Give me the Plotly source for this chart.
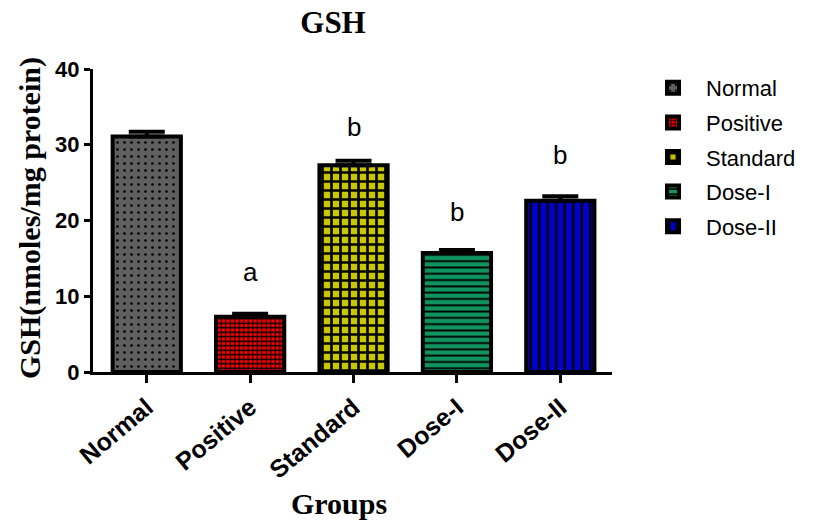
import plotly.graph_objects as go

# GSH levels per treatment group (nmoles/mg protein)
groups = ["Normal", "Positive", "Standard", "Dose-I", "Dose-II"]
gsh_mean = [31.1, 7.3, 27.3, 15.7, 22.6]
gsh_err = [0.6, 0.4, 0.6, 0.4, 0.6]
sig_letters = ["", "a", "b", "b", "b"]
letter_y = [None, 13.2, 32.3, 21.1, 28.6]
y_ticks = [0, 10, 20, 30, 40]

fill_colors = ["#5f5f5f", "#ff0000", "#c8c800", "#0f9460", "#0000c8"]
patterns = [
    dict(shape=".", fgcolor="black", bgcolor="#5f5f5f", size=7, solidity=0.12, fillmode="replace"),
    dict(shape="+", fgcolor="black", bgcolor="#ff0000", size=4.5, solidity=0.45, fillmode="replace"),
    dict(shape="+", fgcolor="black", bgcolor="#c8c800", size=9, solidity=0.5, fillmode="replace"),
    dict(shape="-", fgcolor="black", bgcolor="#0f9460", size=6.3, solidity=0.3, fillmode="replace"),
    dict(shape="|", fgcolor="black", bgcolor="#0000c8", size=8.5, solidity=0.28, fillmode="replace"),
]

serif = "Times New Roman, Liberation Serif, serif"
sans = "Arial, Liberation Sans, sans-serif"

fig = go.Figure()
for i, g in enumerate(groups):
    fig.add_trace(go.Bar(
        x=[g], y=[gsh_mean[i]], name=g, width=0.66,
        legendgroup=g,
        marker=dict(color=fill_colors[i], pattern=patterns[i],
                    line=dict(color="black", width=4)),
        error_y=dict(type="data", array=[gsh_err[i]], arrayminus=[0],
                     symmetric=False, thickness=4, width=18, color="black"),
    ))

for i, g in enumerate(groups):
    if sig_letters[i]:
        fig.add_annotation(x=g, y=letter_y[i], text=sig_letters[i], showarrow=False,
                           yanchor="middle", font=dict(family=sans, size=26, color="black"))

# axis titles placed as annotations
fig.add_annotation(text="<b>Groups</b>", xref="paper", yref="paper",
                   x=(339 - 93) / 519, y=(372 - 503) / 303, showarrow=False,
                   xanchor="center", yanchor="middle",
                   font=dict(family=serif, size=30, color="black"))
fig.add_annotation(text="<b>GSH(nmoles/mg protein)</b>", xref="paper", yref="paper",
                   x=(30 - 93) / 519, y=(372 - 218) / 303, showarrow=False,
                   textangle=-90, xanchor="center", yanchor="middle",
                   font=dict(family=serif, size=30, color="black"))

fig.update_layout(
    width=822, height=524,
    margin=dict(l=93, r=210, t=69, b=152),
    paper_bgcolor="white", plot_bgcolor="white",
    barmode="overlay",
    title=dict(text="<b>GSH</b>", x=333 / 822, xref="container", xanchor="center",
               y=1 - 22 / 524, yref="container", yanchor="middle",
               font=dict(family=serif, size=31, color="black")),
    legend=dict(x=640 / 822, xref="container", xanchor="left",
                y=1 - 67 / 524, yref="container", yanchor="top",
                traceorder="grouped", tracegroupgap=3, itemwidth=56,
                font=dict(family=sans, size=22, color="black"),
                bgcolor="rgba(0,0,0,0)"),
    showlegend=True,
)

fig.update_xaxes(
    range=[-0.52, 4.5], showline=True, linecolor="black", linewidth=3,
    ticks="outside", ticklen=8, tickwidth=3, tickcolor="black",
    tickangle=-40, showgrid=False, zeroline=False,
    tickfont=dict(family=sans, size=25, color="black", weight="bold"),
)
fig.update_yaxes(
    range=[0, 40], tickvals=y_ticks, showline=True, linecolor="black", linewidth=3,
    ticks="outside", ticklen=6, tickwidth=3, tickcolor="black",
    showgrid=False, zeroline=False,
    tickfont=dict(family=sans, size=22, color="black", weight="bold"),
)

fig.write_html("out.html")
